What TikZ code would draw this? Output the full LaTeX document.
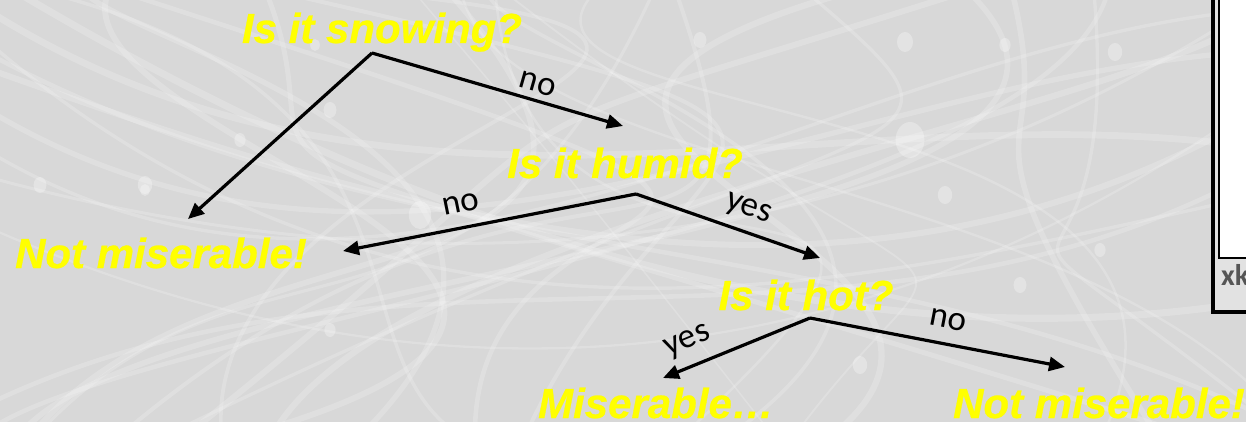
\documentclass[tikz,border=0pt]{standalone}
\usepackage{fontspec}
\setmainfont{Liberation Sans}
\newfontfamily\qfont{Liberation Sans}[BoldItalicFeatures={FakeBold=0.6}]
\newfontfamily\lfont{Carlito}
\usetikzlibrary{arrows.meta}
\definecolor{bg}{RGB}{216,216,216}
\definecolor{qyellow}{RGB}{255,255,0}
\definecolor{strip}{RGB}{226,226,226}
\definecolor{xkgray}{RGB}{85,85,85}
\begin{document}
\begin{tikzpicture}[x=1pt,y=-1pt,
  qtext/.style={text=qyellow, font=\qfont\bfseries\itshape\fontsize{42}{48}\selectfont, anchor=base, inner sep=0pt},
  lbl/.style={font=\lfont\fontsize{35}{40}\selectfont, inner sep=0pt, text=black},
  arr/.style={line width=3.2pt, -{Triangle[length=16pt,width=14pt]}},
  fiber/.style={draw=white, opacity=0.18, line cap=round},
  blob/.style={fill=white, opacity=0.3}]
\useasboundingbox (0,0) rectangle (1246,422);
\clip (0,0) rectangle (1246,422);
% background
\fill[bg] (0,0) rectangle (1246,422);
\pgfmathsetseed{42}
\foreach \i in {1,...,24}{
  \pgfmathsetmacro\xa{rnd*1400-80}
  \pgfmathsetmacro\xb{rnd*1400-80}
  \pgfmathsetmacro\xc{rnd*1400-80}
  \pgfmathsetmacro\xd{rnd*1400-80}
  \pgfmathsetmacro\yb{rnd*422}
  \pgfmathsetmacro\yc{rnd*422}
  \pgfmathsetmacro\w{1.5+rnd*5}
  \path[fiber, line width=\w pt] (\xa,-30) .. controls (\xb,\yb) and (\xc,\yc) .. (\xd,460);
}
\foreach \i in {1,...,10}{
  \pgfmathsetmacro\ya{rnd*500-40}
  \pgfmathsetmacro\yb{rnd*422}
  \pgfmathsetmacro\yc{rnd*422}
  \pgfmathsetmacro\yd{rnd*500-40}
  \pgfmathsetmacro\w{1.5+rnd*6}
  \path[fiber, line width=\w pt] (-30,\ya) .. controls (400,\yb) and (850,\yc) .. (1280,\yd);
}
\foreach \px/\py/\r in {40/185/8, 145/185/9, 330/330/7, 145/190/6, 330/110/8, 420/215/14, 315/45/6,
  905/42/10, 1005/45/7, 1115/52/9, 910/140/18, 945/195/9, 1020/285/8, 1100/250/7, 700/40/8, 860/365/9, 240/140/7}{
  \fill[blob] (\px,\py) ellipse ({\r*0.8} and \r);
}
% right window fragment
\fill[strip] (1213,-10) rectangle (1260,312);
\draw[line width=4pt] (1213,-10) -- (1213,312) -- (1260,312);
\fill[white] (1219,-10) rectangle (1260,258);
\draw[line width=2.5pt] (1219,-10) -- (1219,258) -- (1260,258);
\node[anchor=base west, inner sep=0pt, text=xkgray, font=\lfont\bfseries\fontsize{30}{34}\selectfont] (xk) at (1221,285) {xk};
% questions and answers
\node[qtext] (snow) at (382,43) {Is it snowing?};
\node[qtext] (humid) at (625,178) {Is it humid?};
\node[qtext] (hot) at (806,310) {Is it hot?};
\node[qtext] (notmis1) at (161,268) {Not miserable!};
\node[qtext] (mis) at (656,418) {Miserable…};
\node[qtext] (notmis2) at (1099,418) {Not miserable!};
% connector ends
\coordinate (snowA) at (372,53);
\coordinate (humidA) at (636,194);
\coordinate (hotA) at (810,318);
\coordinate (tipNM1) at (188,219);
\coordinate (tipHumid) at (623,126);
\coordinate (tipNM1b) at (343,251);
\coordinate (tipHot) at (820,258);
\coordinate (tipMis) at (663,378);
\coordinate (tipNM2) at (1065,367);
% connectors
\draw[arr] (snowA) -- (tipNM1);
\draw[arr] (snowA) -- (tipHumid);
\draw[arr] (humidA) -- (tipNM1b);
\draw[arr] (humidA) -- (tipHot);
\draw[arr] (hotA) -- (tipMis);
\draw[arr] (hotA) -- (tipNM2);
% labels
\node[lbl, rotate=-16] (l1) at (538,84) {no};
\node[lbl, rotate=11.4] (l2) at (461,204) {no};
\node[lbl, rotate=-19] (l3) at (748,210) {yes};
\node[lbl, rotate=22.5] (l4) at (688,342) {yes};
\node[lbl, rotate=-11] (l5) at (948,320) {no};
\end{tikzpicture}
\end{document}
